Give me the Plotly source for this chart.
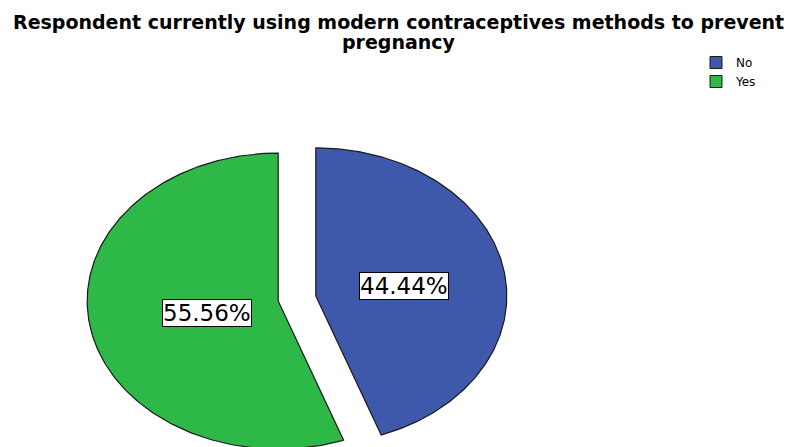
import numpy as np
import plotly.graph_objects as go

# ---- data ----
categories = ["No", "Yes"]
percentages = [44.44, 55.56]
colors = ["#3E58AC", "#2EB848"]
title_lines = ["Respondent currently using modern contraceptives methods to prevent", "pregnancy"]

# ---- geometry (normalised ellipse units) ----
W, H = 797, 447
cx_px, cy_px = 297, 298.5      # pie centre in pixels
rx_px, ry_px = 191, 148        # pixels per unit along x and y
explode = 0.10

fig = go.Figure()
total = sum(percentages)
start = 0.0
for cat, val, col in zip(categories, percentages, colors):
    span = 2 * np.pi * val / total
    th = np.linspace(start, start + span, 240)
    mid = start + span / 2
    ox, oy = explode * np.sin(mid), explode * np.cos(mid)
    xs = np.concatenate([[ox], ox + np.sin(th), [ox]])
    ys = np.concatenate([[oy], oy + np.cos(th), [oy]])
    fig.add_trace(go.Scatter(
        x=xs, y=ys, mode="lines", fill="toself", fillcolor=col,
        line=dict(color="#1a1a1a", width=1.2), showlegend=False, hoverinfo="skip"))
    # label at sector centroid
    a = span / 2
    d = 2 * np.sin(a) / (3 * a)
    fig.add_annotation(x=ox + d * np.sin(mid), y=oy + d * np.cos(mid) - 0.012,
                       text=f"{val:.2f}%", showarrow=False,
                       font=dict(family="DejaVu Sans", size=23, color="black"),
                       bgcolor="white", bordercolor="black", borderwidth=1, borderpad=0)
    # legend entry
    fig.add_trace(go.Scatter(
        x=[None], y=[None], mode="markers", name=cat,
        marker=dict(symbol="square", size=12, color=col, line=dict(color="#1a1a1a", width=1))))
    start += span

# title (two centred lines)
for i, line in enumerate(title_lines):
    fig.add_annotation(x=0.5, y=1 - (22 + 20 * i) / H, xref="paper", yref="paper",
                       xanchor="center", yanchor="middle", showarrow=False,
                       text=f"<b>{line}</b>",
                       font=dict(family="DejaVu Sans", size=19, color="black"))

fig.update_xaxes(range=[-cx_px / rx_px, (W - cx_px) / rx_px], visible=False, fixedrange=True)
fig.update_yaxes(range=[-(H - cy_px) / ry_px, cy_px / ry_px], visible=False, fixedrange=True)

fig.update_layout(
    width=W, height=H,
    margin=dict(l=0, r=0, t=0, b=0),
    paper_bgcolor="white", plot_bgcolor="white",
    legend=dict(x=696 / W, y=1 - 48 / H, xanchor="left", yanchor="top",
                font=dict(family="DejaVu Sans", size=12, color="black"),
                itemwidth=30, tracegroupgap=0, bgcolor="rgba(0,0,0,0)"),
)

fig.write_html("out.html")
